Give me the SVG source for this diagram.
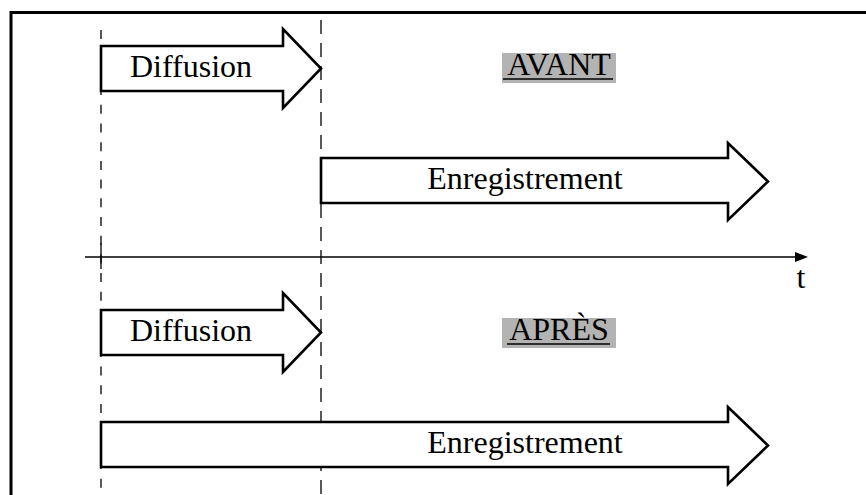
<svg xmlns="http://www.w3.org/2000/svg" width="866" height="495" viewBox="0 0 866 495">
  <style>
    .frame { fill: none; stroke: #000; stroke-width: 3; }
    .guide { fill: none; stroke: #000; stroke-width: 1.3; }
    .block { fill: #fff; stroke: #000; stroke-width: 2.6; stroke-linejoin: miter; }
    .lbl { font-family: "Liberation Serif", "Times New Roman", serif; font-size: 32px; fill: #000; text-anchor: middle; }
    .tag { fill: #b3b3b3; }
    .uline { stroke: #000; stroke-width: 1.6; }
  </style>

  <rect width="866" height="495" fill="#fff"/>
  <!-- outer frame, open to the right and bottom -->
  <rect class="frame" x="11" y="12.5" width="900" height="600"/>

  <!-- time markers and time axis -->
  <g id="connectors">
    <line class="guide" x1="101" y1="30" x2="101" y2="495" stroke-dasharray="9 9.7"/>
    <line class="guide" x1="101" y1="243" x2="101" y2="269"/>
    <line class="guide" x1="321" y1="20" x2="321" y2="495" stroke-dasharray="14 9"/>
    <line x1="85" y1="257" x2="797" y2="257" stroke="#000" stroke-width="1.6"/>
    <polygon points="795,252 808,257 795,262" fill="#000"/>
  </g>

  <!-- AVANT scenario -->
  <g id="avant-tag">
    <rect class="tag" x="502" y="53" width="114" height="30"/>
    <text class="lbl" x="559" y="75">AVANT</text>
    <line class="uline" x1="503" y1="79" x2="613" y2="79"/>
  </g>
  <g id="avant-diffusion">
    <path class="block" d="M101,46 H283 V29 L321,68.5 L283,108 V91 H101 Z"/>
    <text class="lbl" x="191" y="77">Diffusion</text>
  </g>
  <g id="avant-enregistrement">
    <path class="block" d="M321,158 H728 V143 L768,181.5 L728,220 V203 H321 Z"/>
    <text class="lbl" x="525" y="189">Enregistrement</text>
  </g>

  <!-- axis label -->
  <g id="axis-label">
    <text class="lbl" x="801" y="288">t</text>
  </g>

  <!-- APRES scenario -->
  <g id="apres-tag">
    <rect class="tag" x="502" y="318" width="114" height="30"/>
    <text class="lbl" x="559" y="340">APRÈS</text>
    <line class="uline" x1="507" y1="344" x2="610" y2="344"/>
  </g>
  <g id="apres-diffusion">
    <path class="block" d="M101,310 H283 V293 L321,332.5 L283,372 V355 H101 Z"/>
    <text class="lbl" x="191" y="341">Diffusion</text>
  </g>
  <g id="apres-enregistrement">
    <path class="block" d="M101,422 H728 V407 L768,445.5 L728,484 V467 H101 Z"/>
    <text class="lbl" x="525" y="453">Enregistrement</text>
  </g>
</svg>
